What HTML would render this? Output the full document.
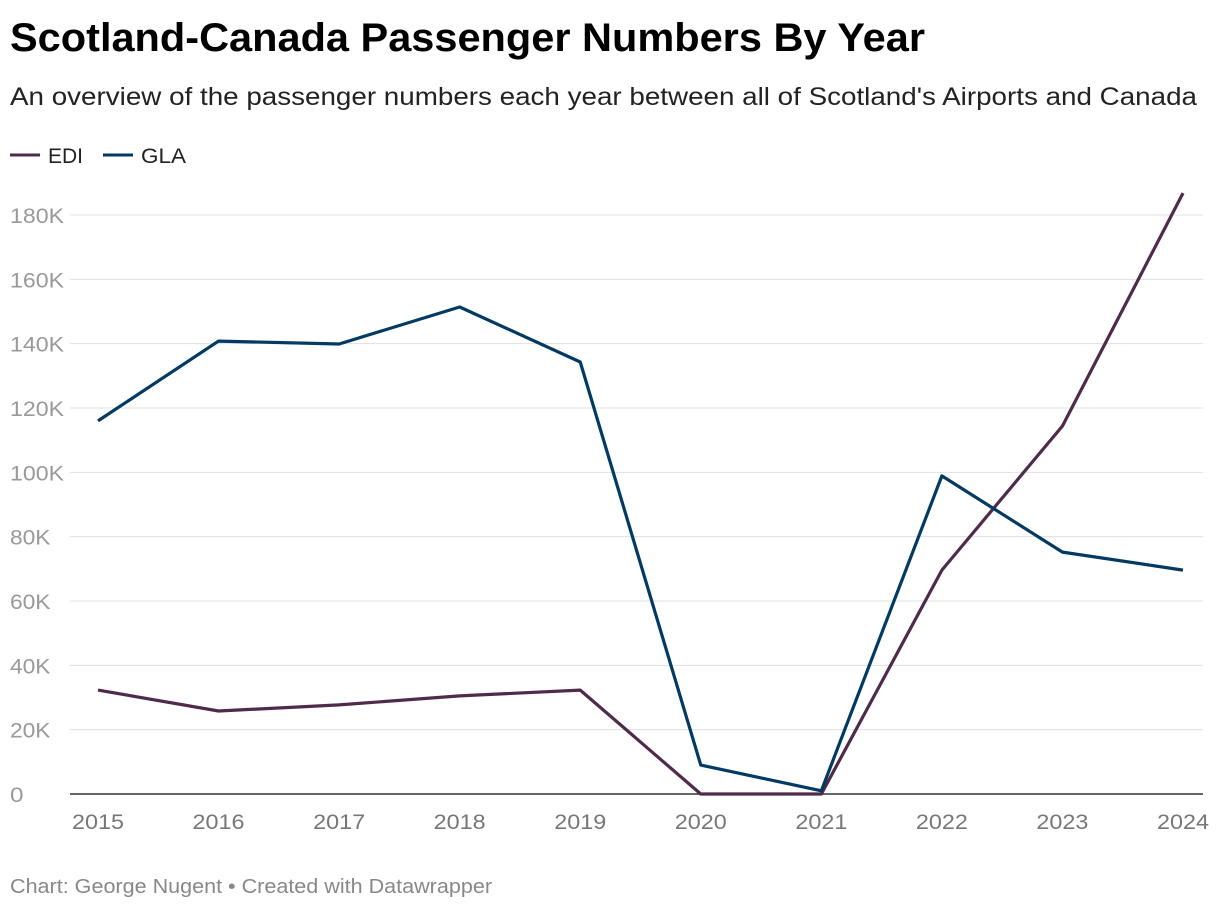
<!DOCTYPE html>
<html><head><meta charset="utf-8"><style>
body{margin:0;background:#fff;width:1220px;height:910px;overflow:hidden;font-family:"Liberation Sans",Arial,sans-serif;}
</style></head><body>
<svg width="1220" height="910">
<text x="10" y="51" font-size="40" font-weight="bold" fill="#000" textLength="915" lengthAdjust="spacingAndGlyphs">Scotland-Canada Passenger Numbers By Year</text>
<text x="10" y="105" font-size="25" fill="#222" textLength="1187" lengthAdjust="spacingAndGlyphs">An overview of the passenger numbers each year between all of Scotland's Airports and Canada</text>
<g>
<line x1="10" y1="155" x2="40" y2="155" stroke="#4f2a4a" stroke-width="3"/>
<text x="48" y="163" font-size="21" fill="#222" textLength="35" lengthAdjust="spacingAndGlyphs">EDI</text>
<line x1="103" y1="155" x2="133" y2="155" stroke="#023a63" stroke-width="3"/>
<text x="141" y="163" font-size="21" fill="#222" textLength="45" lengthAdjust="spacingAndGlyphs">GLA</text>
</g>
<g id="grid"></g><g id="lines"></g>
<text x="10" y="893" font-size="20" fill="#888" textLength="482" lengthAdjust="spacingAndGlyphs">Chart: George Nugent • Created with Datawrapper</text>
</svg>
<script>
const years=[2015,2016,2017,2018,2019,2020,2021,2022,2023,2024];
const edi=[32300,25800,27700,30500,32300,0,0,69600,114400,186800];
const gla=[116000,140800,139900,151400,134300,9000,1000,98900,75200,69600];
const yTicks=[0,20000,40000,60000,80000,100000,120000,140000,160000,180000];
const yTickLabels=["0","20K","40K","60K","80K","100K","120K","140K","160K","180K"];
const NS="http://www.w3.org/2000/svg";
const x=i=>98+i*(1183-98)/(years.length-1);
const y=v=>794-v*(794-215)/180000;
const grid=document.getElementById('grid'),lines=document.getElementById('lines');
function mk(t,a,p){const e=document.createElementNS(NS,t);for(const k in a)e.setAttribute(k,a[k]);p.appendChild(e);return e;}
yTicks.forEach((v,i)=>{
 const l=mk('line',{x1:70,x2:1203,y1:y(v),y2:y(v),stroke:v===0?'#333':'#e0e0e0','stroke-width':v===0?1.5:1},grid);
 
 
 const t=mk('text',{x:10,y:y(v)+8,'font-size':21,fill:'#999',textLength:yTickLabels[i].length*13.5,lengthAdjust:'spacingAndGlyphs'},grid);
 t.textContent=yTickLabels[i];
 
 
});
years.forEach((yr,i)=>{
 const t=mk('text',{x:x(i),y:829,'font-size':21,fill:'#777','text-anchor':'middle',textLength:52,lengthAdjust:'spacingAndGlyphs'},grid);
 t.textContent=yr;
 
 
});
function series(d,c,n){
 const p=mk('polyline',{points:d.map((v,i)=>x(i)+','+y(v)).join(' '),fill:'none',stroke:c,'stroke-width':3.2,'stroke-linejoin':'round'},lines);
 
 
}
series(edi,'#4f2a4a','line-edi');
series(gla,'#023a63','line-gla');
</script>
</body></html>
